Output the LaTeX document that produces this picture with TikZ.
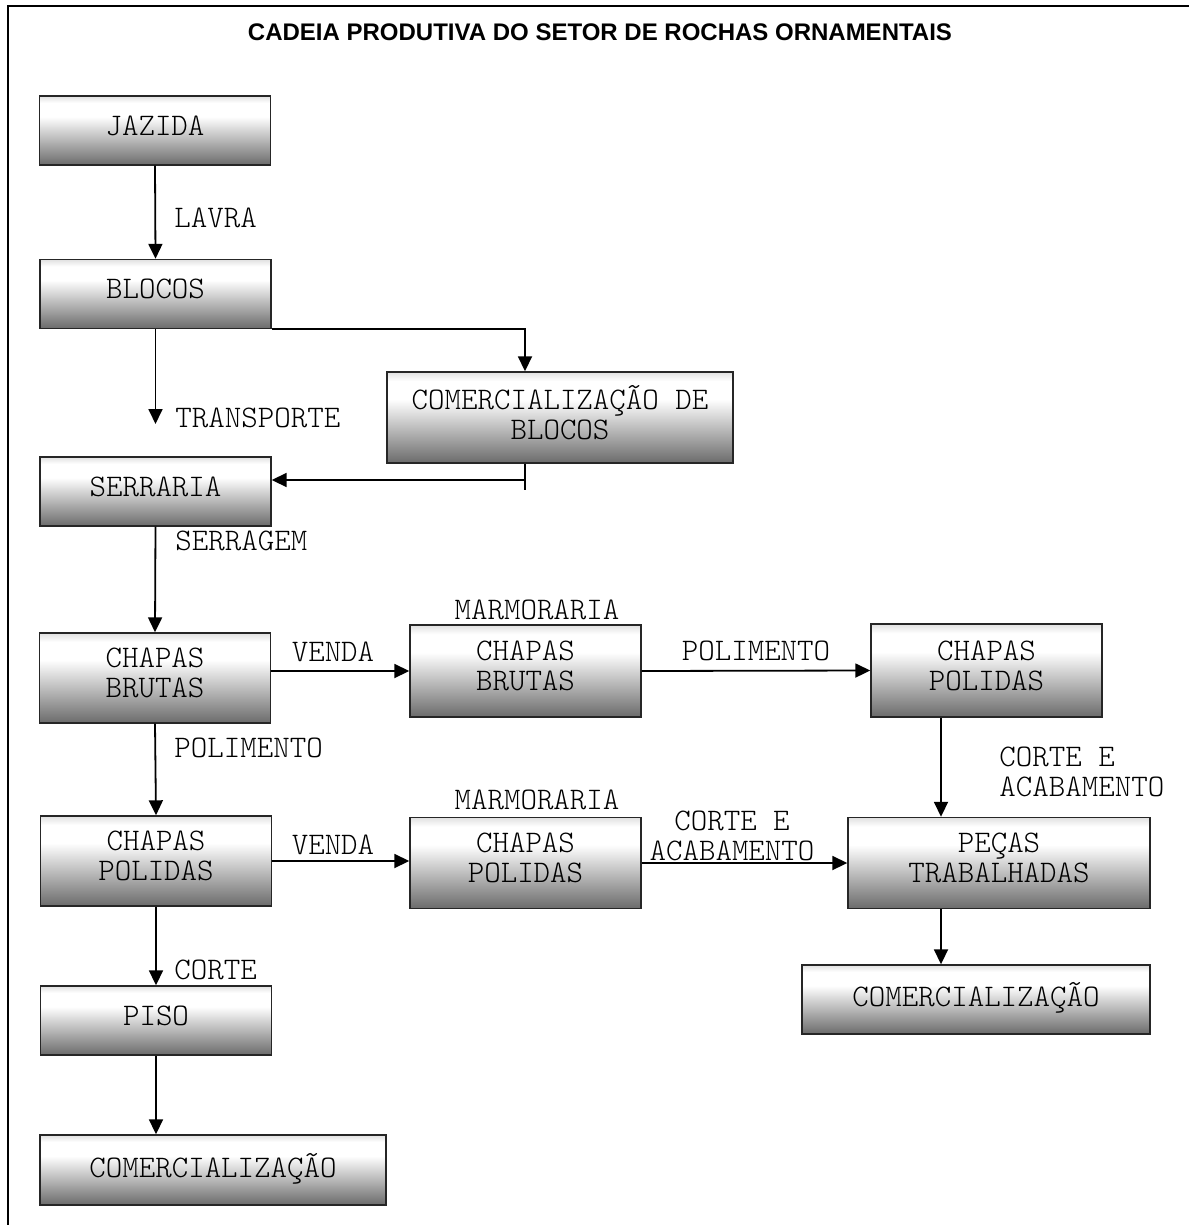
\documentclass[tikz,border=0pt]{standalone}
\usepackage{fontspec}
\newfontfamily\titlefont{Liberation Sans}
\newfontfamily\caixafont{Latin Modern Mono Light}
\usetikzlibrary{arrows.meta}
\pgfdeclareverticalshading{caixashade}{100bp}{color(0bp)=(black!58); color(25bp)=(black!58); color(60bp)=(white); color(70bp)=(white); color(75bp)=(black!12); color(100bp)=(black!12)}

\begin{document}
\begin{tikzpicture}[x=0.5pt,y=-0.5pt,
caixa/.style={draw=black!85,line width=0.7pt,shading=caixashade,minimum width=115.5pt,minimum height=34.5pt,align=center,inner sep=0pt,text depth=5pt,font=\fontsize{15.7}{15}\selectfont\caixafont},
rotulo/.style={inner sep=0pt,align=left,font=\fontsize{15.7}{15}\selectfont\caixafont},
seta/.style={line width=0.9pt,-{Triangle[length=7.5pt,width=7pt]}}]
\useasboundingbox (0,0) rectangle (1188,1225);
\draw[line width=1pt] (8,1240) -- (8,6) -- (1200,6);
\node[font=\titlefont\bfseries\fontsize{12}{14}\selectfont] (titulo) at (600,32) {CADEIA PRODUTIVA DO SETOR DE ROCHAS ORNAMENTAIS};

\node[caixa] (jazida) at (155,130.5) {JAZIDA};
\node[caixa] (blocos) at (155.5,294) {BLOCOS};
\node[caixa,minimum width=173pt,minimum height=45.5pt] (comblocos) at (560,417.5) {COMERCIALIZAÇÃO DE\\BLOCOS};
\node[caixa] (serraria) at (155.5,491.5) {SERRARIA};
\node[caixa,minimum height=45pt] (brutas) at (155,678) {CHAPAS\\BRUTAS};
\node[caixa,minimum height=46pt] (mbrutas) at (525.5,671) {CHAPAS\\BRUTAS};
\node[caixa,minimum height=46.5pt] (rpolidas) at (986.5,670.5) {CHAPAS\\POLIDAS};
\node[caixa,minimum height=45pt] (polidas) at (156,861) {CHAPAS\\POLIDAS};
\node[caixa,minimum height=45.5pt] (mpolidas) at (525.5,863) {CHAPAS\\POLIDAS};
\node[caixa,minimum width=151pt,minimum height=45.5pt] (pecas) at (999,863) {PEÇAS\\TRABALHADAS};
\node[caixa,minimum width=174pt] (rcomerc) at (976,999.5) {COMERCIALIZAÇÃO};
\node[caixa] (piso) at (156,1020.5) {PISO};
\node[caixa,minimum width=173pt,minimum height=35pt] (lcomerc) at (213,1170) {COMERCIALIZAÇÃO};

\node[rotulo,anchor=west] (lavra) at (174,218) {LAVRA};
\node[rotulo,anchor=west] (transporte) at (175,418) {TRANSPORTE};
\node[rotulo,anchor=west] (serragem) at (175,541) {SERRAGEM};
\node[rotulo] (venda1) at (333,652) {VENDA};
\node[rotulo] (polim1) at (756,651) {POLIMENTO};
\node[rotulo] (marm1) at (537,610) {MARMORARIA};
\node[rotulo,anchor=west] (polim2) at (174,748) {POLIMENTO};
\node[rotulo] (venda2) at (333,845) {VENDA};
\node[rotulo] (marm2) at (537,800) {MARMORARIA};
\node[rotulo,align=center] (corte1) at (732,836) {CORTE E\\ACABAMENTO};
\node[rotulo,anchor=west] (corte2) at (999,772) {CORTE E\\ACABAMENTO};
\node[rotulo,anchor=west] (corte3) at (174,970) {CORTE};

\coordinate (fimtransp) at (155.5,424);
\draw[seta] (jazida.south) -- (blocos.north);
\draw[seta] (blocos.south) -- (fimtransp);
\draw[seta] (blocos.south east) -| ([xshift=-17.5pt]comblocos.north);
\draw[line width=0.9pt] ([xshift=-17.5pt]comblocos.south) -- ++(0,26);
\draw[seta] ([xshift=-17.5pt]comblocos.south) |- ([yshift=5.75pt]serraria.east);
\draw[seta] (serraria.south) -- (brutas.north);
\draw[seta] (brutas.east |- mbrutas.west) -- (mbrutas.west);
\draw[seta] (mbrutas.east) -- (rpolidas.west);
\draw[seta] (brutas.south) -- (polidas.north);
\draw[seta] (polidas.east) -- (polidas.east -| mpolidas.west);
\draw[seta] (mpolidas.east) -- (pecas.west);
\draw[seta] ([xshift=-22.75pt]rpolidas.south) -- ([xshift=-29pt]pecas.north);
\draw[seta] ([xshift=-29pt]pecas.south) -- ([xshift=-29pt]pecas.south |- rcomerc.north);
\draw[seta] (polidas.south) -- (piso.north);
\draw[seta] (piso.south) -- (piso.south |- lcomerc.north);
\end{tikzpicture}
\end{document}
